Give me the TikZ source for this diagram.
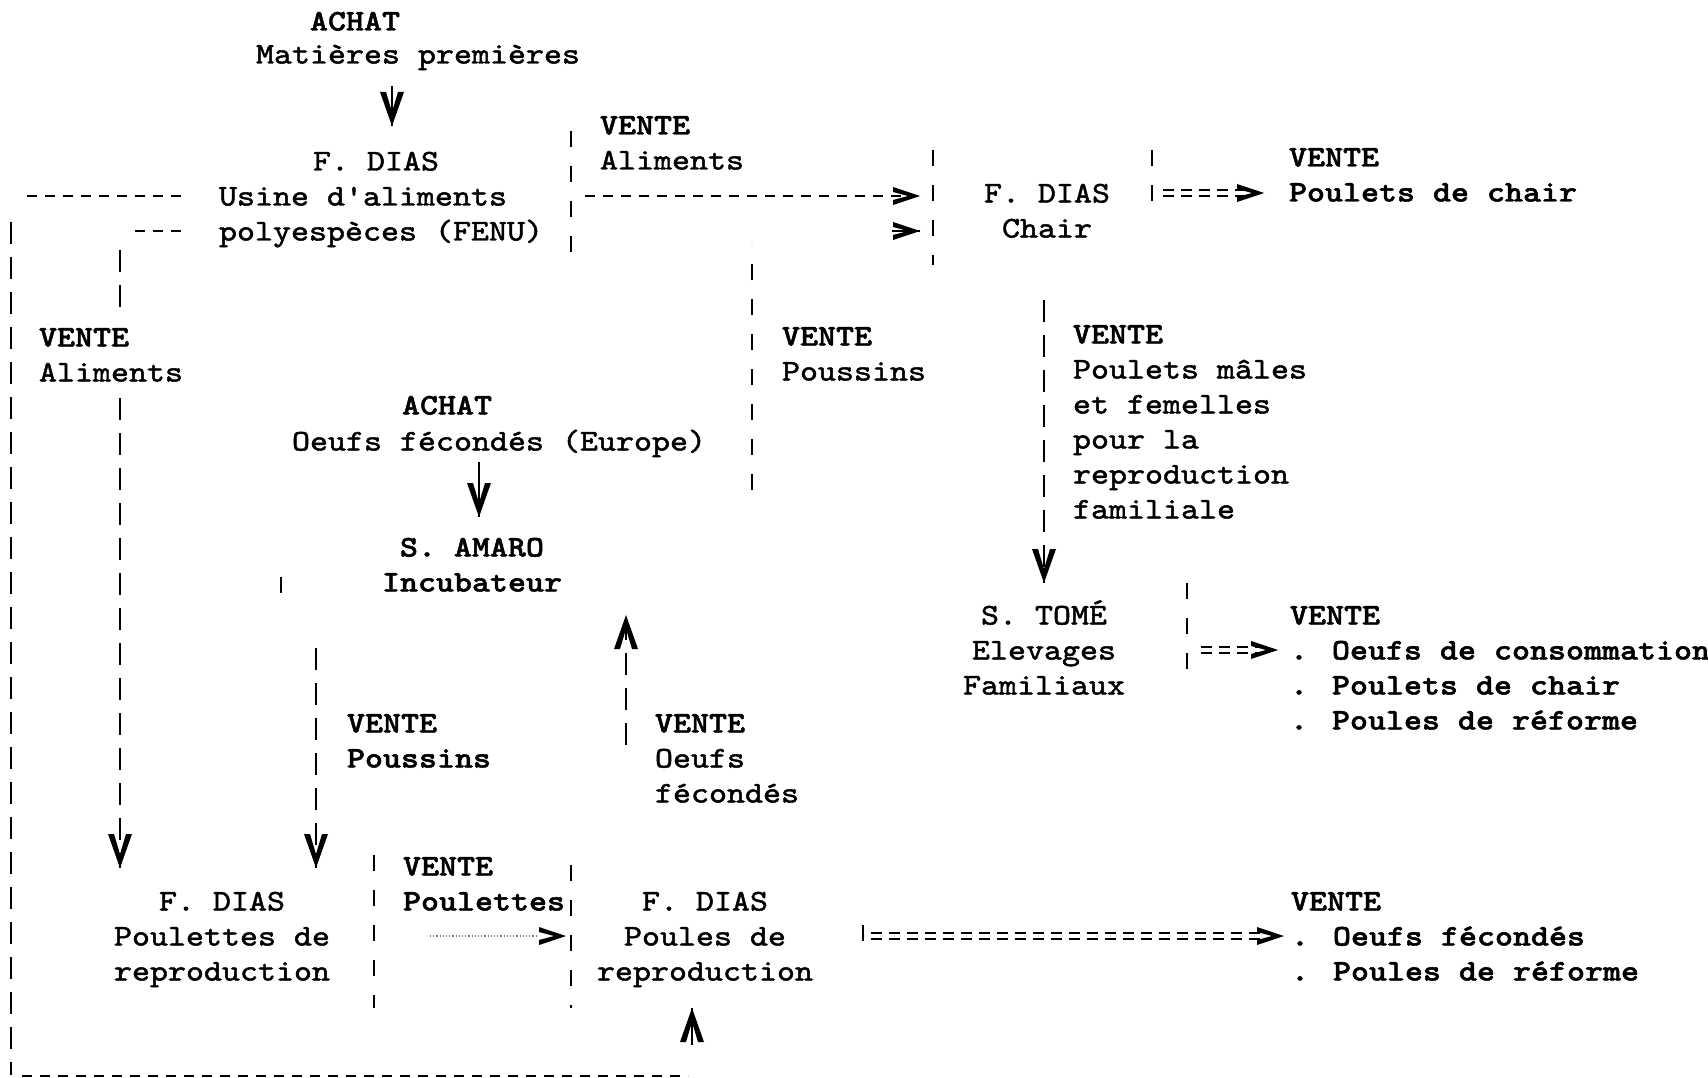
\documentclass[tikz,border=0pt]{standalone}
\usepackage{fontspec}
\setmainfont{Liberation Serif}
\newfontfamily\tw{lmmono10-regular.otf}[BoldFont=lmmonolt10-bold.otf, FakeStretch=1.143, FakeBold=1.6]
\begin{document}
\begin{tikzpicture}[x=1pt,y=-1pt,
  tt/.style={font=\tw\fontsize{30}{35}\selectfont, inner sep=0pt, outer sep=0pt, align=left, anchor=north west},
  ttc/.style={tt, align=center, anchor=north},
  vl/.style={line width=2.4pt, dash pattern=on 22pt off 13pt},
  hl/.style={line width=2.4pt, dash pattern=on 10pt off 8pt},
  dl/.style={double, line width=2.2pt, double distance=3.5pt, dash pattern=on 11pt off 7pt},
  bx/.style={line width=1.6pt, dash pattern=on 16pt off 19pt},
  stem/.style={line width=1.5pt},
  vdn/.pic={\fill (0,0)--(-12,-34)--(-6,-34)--(0,-14)--(6,-34)--(12,-34)--cycle;},
  vup/.pic={\fill (0,0)--(-12,34)--(-6,34)--(0,14)--(6,34)--(12,34)--cycle;},
  rgt/.pic={\fill (0,0)--(-27,-9)--(-27,-4)--(-12,0)--(-27,4)--(-27,9)--cycle;}]
\fill[white] (0,0) rectangle (1708,1078);
\useasboundingbox (0,0) rectangle (1708,1078);

% text blocks
\node[tt] (achat1) at (310,6) {\strut\textbf{ACHAT}};
\node[tt] (matp) at (256,39) {\strut Matières premières};
\node[tt] (fd1) at (313,146) {\strut F. DIAS};
\node[tt] (fenu) at (219,181) {\strut Usine d'aliments\\\strut polyespèces (FENU)};
\node[tt] (v1) at (600,110) {\strut\textbf{VENTE}\\\strut Aliments};
\node[ttc] (chair) at (1047,178) {\strut F. DIAS\\\strut Chair};
\node[tt] (v2) at (1289,142) {\strut\textbf{VENTE}\\\strut\textbf{Poulets de chair}};
\node[tt] (v3) at (39,322) {\strut\textbf{VENTE}\\\strut Aliments};
\node[tt] (v4) at (782,321) {\strut\textbf{VENTE}\\\strut Poussins};
\node[tt] (v5) at (1073,319) {\strut\textbf{VENTE}\\\strut Poulets mâles\\\strut et femelles\\\strut pour la\\\strut reproduction\\\strut familiale};
\node[ttc] (achat2) at (447,390) {\strut\textbf{ACHAT}};
\node[tt] (oeufs) at (292,426) {\strut Oeufs fécondés (Europe)};
\node[ttc] (amaro) at (472,532) {\strut\textbf{S. AMARO}\\\strut\textbf{Incubateur}};
\node[tt] (v6) at (347,708) {\strut\textbf{VENTE}\\\strut\textbf{Poussins}};
\node[tt] (v7) at (655,708) {\strut\textbf{VENTE}\\\strut Oeufs\\\strut fécondés};
\node[ttc] (poulettes) at (222,886) {\strut F. DIAS\\\strut Poulettes de\\\strut reproduction};
\node[tt] (v8) at (403,851) {\strut\textbf{VENTE}\\\strut\textbf{Poulettes}};
\node[ttc] (poules) at (705,886) {\strut F. DIAS\\\strut Poules de\\\strut reproduction};
\node[tt] (v9) at (1291,886) {\strut\textbf{VENTE}\\\strut\textbf{. Oeufs fécondés}\\\strut\textbf{. Poules de réforme}};
\node[ttc] (tome) at (1044,600) {\strut S. TOMÉ\\\strut Elevages\\\strut Familiaux};
\node[tt] (v10) at (1290,600) {\strut\textbf{VENTE}\\\strut\textbf{. Oeufs de consommation}\\\strut\textbf{. Poulets de chair}\\\strut\textbf{. Poules de réforme}};

% named end points
\coordinate (mA) at (392,86);   \coordinate (mB) at (392,126);
\coordinate (alA) at (585,196); \coordinate (alB) at (920,196);
\coordinate (poA) at (892,231); \coordinate (poB) at (920,231);
\coordinate (pcA) at (1163,193); \coordinate (pcB) at (1264,193);
\coordinate (stA) at (1044,300); \coordinate (stB) at (1044,583);
\coordinate (tvA) at (1201,650); \coordinate (tvB) at (1278,650);
\coordinate (oeA) at (479,462); \coordinate (oeB) at (479,517);
\coordinate (psA) at (316,648); \coordinate (psB) at (316,868);
\coordinate (ofA) at (626,745); \coordinate (ofB) at (626,615);
\coordinate (alpB) at (120,868);
\coordinate (plA) at (430,936); \coordinate (plB) at (566,936);
\coordinate (pvA) at (871,936); \coordinate (pvB) at (1284,936);
\coordinate (lpB) at (692,1008);

% connectors
\draw[stem] (mA) -- (mB); \pic at (mB) {vdn};
\draw[hl] (alA) -- ([xshift=-12pt]alB); \pic at (alB) {rgt};
\draw[stem] (poA) -- (poB); \pic at (poB) {rgt};
\draw[bx] (752,490) -- (752,245);
\draw[dl] (pcA) -- ([xshift=-16pt]pcB); \pic at (pcB) {rgt};
\draw[vl] (stA) -- (stB); \pic at (stB) {vdn};
\draw[dl] (tvA) -- ([xshift=-16pt]tvB); \pic at (tvB) {rgt};
\draw[stem] (oeA) -- (oeB); \pic at (oeB) {vdn};
\draw[vl] (psA) -- (psB); \pic at (psB) {vdn};
\draw[vl] (ofA) -- (ofB); \pic at (ofB) {vup};
% left loop
\draw[hl] (181,196) -- (22,196);
\draw[vl] (11,222) -- (11,1075);
\draw[hl] (22,1076) -- (688,1076);
\draw[stem] (692,1045) -- (lpB); \pic at (lpB) {vup};
% FENU to poulettes
\draw[hl] (181,231) -- (131,231);
\draw[vl] (120,250) -- (120,312);
\draw[vl] (120,398) -- (alpB); \pic at (alpB) {vdn};
% poulettes to poules
\draw[gray, line width=1.2pt, dotted] (plA) -- ([xshift=-30pt]plB); \pic at (plB) {rgt};
% poules to vente
\draw[dl] (pvA) -- ([xshift=-16pt]pvB); \pic at (pvB) {rgt};
% box edges
\draw[bx] (571,131) -- (571,262);
\draw[bx] (933,150) -- (933,265);
\draw[bx] (1152,150) -- (1152,205);
\draw[bx] (1187,583) -- (1187,685);
\draw[bx] (281,577) -- (281,602);
\draw[bx] (374,855) -- (374,1008);
\draw[bx] (571,865) -- (571,1008);
\draw[bx] (863,925) -- (863,955);
\end{tikzpicture}
\end{document}
